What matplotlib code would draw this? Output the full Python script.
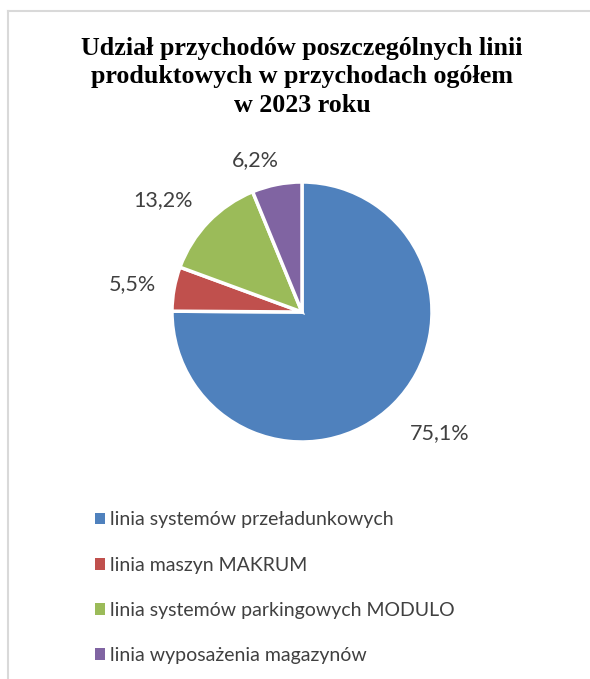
import numpy as np
import matplotlib
matplotlib.use("Agg")
import matplotlib.pyplot as plt
from matplotlib.patches import Patch
from matplotlib.lines import Line2D

title = "Udział przychodów poszczególnych linii\nproduktowych w przychodach ogółem\nw 2023 roku"
categories = ["linia systemów przeładunkowych", "linia maszyn MAKRUM",
              "linia systemów parkingowych MODULO", "linia wyposażenia magazynów"]
values = [75.1, 5.5, 13.2, 6.2]
colors = ["#4F81BD", "#C0504D", "#9BBB59", "#8064A2"]

# label placement style (radial distance in radii, angle shift in degrees)
label_dist = [1.41, 1.32, 1.37, 1.22]
label_shift = [4, 1, 5, 6]

W, H = 590, 679
fig = plt.figure(figsize=(W / 100, H / 100), dpi=100)
fig.patch.set_facecolor("white")

# border (cropped frame)
fig.add_artist(Line2D([8 / W, 8 / W], [0, 1 - 11 / H], transform=fig.transFigure,
                      color="#d9d9d9", lw=1.5))
fig.add_artist(Line2D([8 / W, 1], [1 - 11 / H, 1 - 11 / H], transform=fig.transFigure,
                      color="#d9d9d9", lw=1.5))

fig.text(302 / W, 1 - 77 / H, title, ha="center", va="center",
         family="Liberation Serif", fontweight="bold", fontsize=18.7,
         linespacing=1.29, color="black")

cx, cy, R = 302, 312, 130
ax = fig.add_axes([(cx - R) / W, (H - cy - R) / H, 2 * R / W, 2 * R / H])
wedges, _ = ax.pie(values, colors=colors, startangle=90, counterclock=False, radius=1,
                   wedgeprops=dict(edgecolor="white", linewidth=2.5))
ax.set_xlim(-1, 1)
ax.set_ylim(-1, 1)
ax.axis("off")

for w, v, d, s in zip(wedges, values, label_dist, label_shift):
    mid = np.deg2rad((w.theta1 + w.theta2) / 2 + s)
    ax.text(d * np.cos(mid), d * np.sin(mid), f"{v:.1f}%".replace(".", ","),
            ha="center", va="center", fontsize=15.5, family="Lato", color="#404040",
            clip_on=False)

handles = [Patch(facecolor=c, edgecolor="none") for c in colors]
leg = fig.legend(handles, categories, loc="upper left",
                 bbox_to_anchor=(77 / W, 1 - 494 / H), frameon=False,
                 prop=dict(family="Lato", size=14), labelcolor="#404040",
                 handlelength=0.55, handleheight=0.55, handletextpad=0.25,
                 labelspacing=1.45)

fig.savefig("out.png", dpi=100)
